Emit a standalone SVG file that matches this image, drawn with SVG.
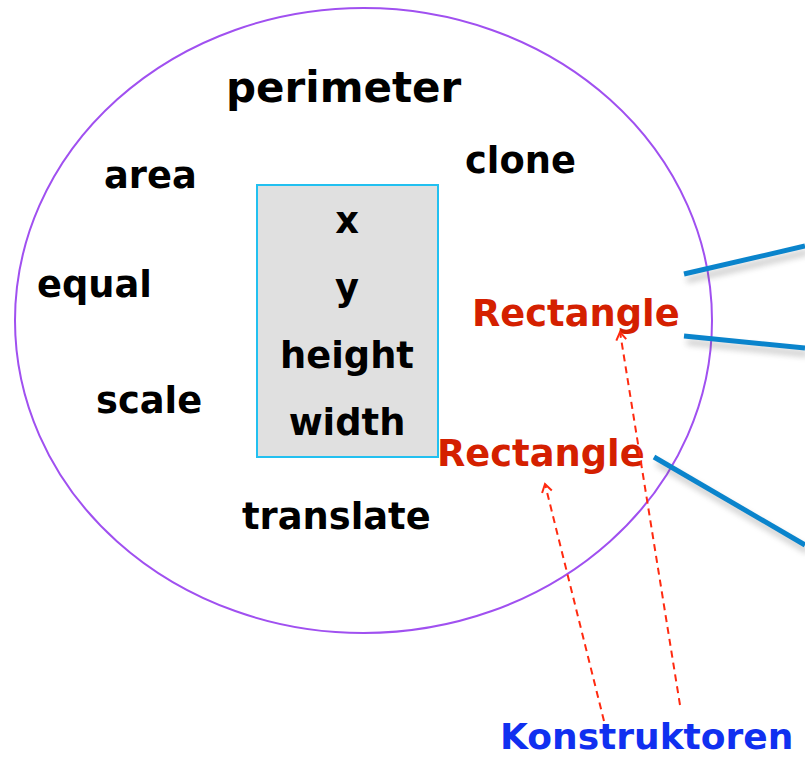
<svg xmlns="http://www.w3.org/2000/svg" width="805" height="757" viewBox="0 0 805 757">
<style>
.t{font-family:"DejaVu Sans",Verdana,sans-serif;font-weight:bold;font-size:36.8px;fill:#000}
.m{text-anchor:middle}
.red{fill:#d42000}
.blue{fill:#1030f0}
.conn{stroke:#0a84cc;stroke-width:5;fill:none}
.dash{stroke:#ff2a10;stroke-width:2;stroke-dasharray:7,5;fill:none}
</style>
<defs>
<marker id="ah" markerWidth="12" markerHeight="12" refX="10" refY="6" orient="auto" markerUnits="userSpaceOnUse">
<path d="M2,1 L10,6 L2,11" fill="none" stroke="#ff2a10" stroke-width="2"/>
</marker>
<filter id="sh" x="-20%" y="-50%" width="140%" height="200%">
<feGaussianBlur stdDeviation="3"/>
</filter>
</defs>
<rect width="805" height="757" fill="#fff"/>
<g id="class">
<ellipse cx="363.5" cy="320.5" rx="348.5" ry="312.5" fill="none" stroke="#a050f0" stroke-width="2"/>
</g>
<g id="fields">
<rect x="257" y="185" width="181" height="272" fill="#e0e0e0" stroke="#22c0f0" stroke-width="2"/>
<text class="t m" x="347" y="233">x</text>
<text class="t m" x="347" y="300">y</text>
<text class="t m" x="347" y="368">height</text>
<text class="t m" x="347" y="435">width</text>
</g>
<g id="perimeter"><text class="t" x="226" y="102" style="font-size:42px">perimeter</text></g>
<g id="area"><text class="t" x="104" y="188">area</text></g>
<g id="clone"><text class="t" x="465" y="173">clone</text></g>
<g id="equal"><text class="t" x="37" y="297">equal</text></g>
<g id="scale"><text class="t" x="96" y="413">scale</text></g>
<g id="translate"><text class="t" x="242" y="529">translate</text></g>
<g id="ctor1"><text class="t red" x="472" y="326">Rectangle</text></g>
<g id="ctor2"><text class="t red" x="437" y="466">Rectangle</text></g>
<g id="konstruktoren"><text class="t blue" x="500" y="749" style="font-size:36px">Konstruktoren</text></g>
<g id="connectors">
<g opacity="0.35" filter="url(#sh)" transform="translate(3,6)">
<line x1="684" y1="274" x2="805" y2="246" stroke="#555" stroke-width="5"/>
<line x1="684" y1="336" x2="805" y2="348" stroke="#555" stroke-width="5"/>
<line x1="654" y1="457" x2="805" y2="545" stroke="#555" stroke-width="5"/>
</g>
<line class="conn" x1="684" y1="274" x2="805" y2="246"/>
<line class="conn" x1="684" y1="336" x2="805" y2="348"/>
<line class="conn" x1="654" y1="457" x2="805" y2="545"/>
<line class="dash" x1="680" y1="705" x2="620" y2="332" marker-end="url(#ah)"/>
<line class="dash" x1="604" y1="721" x2="545" y2="484" marker-end="url(#ah)"/>
</g>
</svg>
